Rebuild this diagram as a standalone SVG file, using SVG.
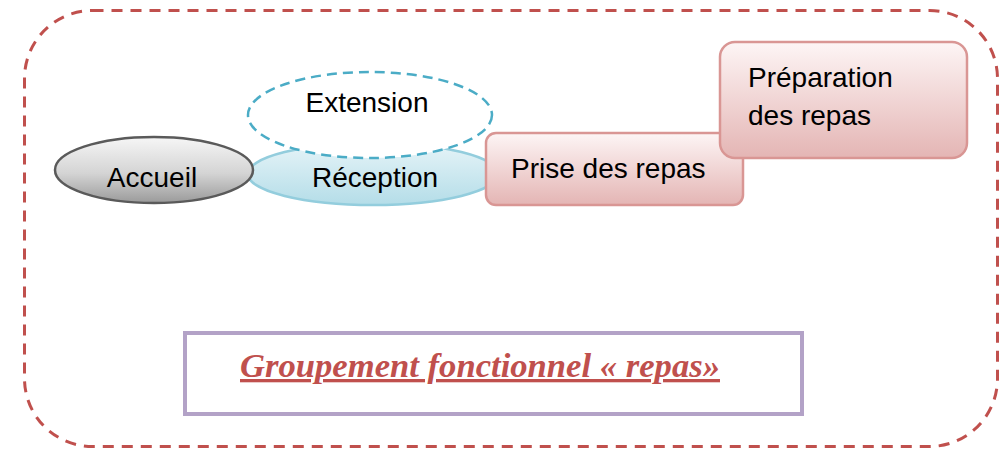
<svg xmlns="http://www.w3.org/2000/svg" width="1007" height="450" viewBox="0 0 1007 450">
<style>
.lbl{font-family:"Liberation Sans",Arial,sans-serif;font-size:28px;fill:#000}
.box{stroke:#d99694;stroke-width:2.5;fill:url(#gBox)}
</style>
<defs>
<linearGradient id="gGray" x1="0" y1="0" x2="0" y2="1">
<stop offset="0" stop-color="#f6f6f6"/><stop offset="0.55" stop-color="#d4d4d4"/><stop offset="1" stop-color="#9a9a9a"/>
</linearGradient>
<linearGradient id="gBlue" x1="0" y1="0" x2="0" y2="1">
<stop offset="0" stop-color="#e6f4f8"/><stop offset="1" stop-color="#b4dde8"/>
</linearGradient>
<linearGradient id="gBox" x1="0" y1="0" x2="0" y2="1">
<stop offset="0" stop-color="#fdf5f5"/><stop offset="1" stop-color="#e4b5b4"/>
</linearGradient>
</defs>
<rect width="1007" height="450" fill="#fff"/>
<g id="frame">
<rect x="24.5" y="10.5" width="973" height="436" rx="68" ry="68" fill="none" stroke="#c0504d" stroke-width="3" stroke-dasharray="11 8"/>
</g>
<g id="connectors"/>
<g id="reception">
<ellipse cx="373" cy="174" rx="125" ry="31" fill="url(#gBlue)" stroke="#93cddd" stroke-width="2.5"/>
<text class="lbl" x="375" y="187" text-anchor="middle">Réception</text>
</g>
<g id="accueil">
<ellipse cx="154" cy="170" rx="99" ry="33" fill="url(#gGray)" stroke="#5a5a5a" stroke-width="2.5"/>
<text class="lbl" x="152" y="187" text-anchor="middle">Accueil</text>
</g>
<g id="extension">
<ellipse cx="370" cy="115" rx="122" ry="43" fill="#fff" stroke="#4bacc6" stroke-width="2.5" stroke-dasharray="10 6"/>
<text class="lbl" x="367" y="112" text-anchor="middle">Extension</text>
</g>
<g id="prise">
<rect class="box" x="486" y="133" width="257" height="72" rx="10"/>
<text class="lbl" x="511" y="178">Prise des repas</text>
</g>
<g id="preparation">
<rect class="box" x="720" y="42" width="247" height="116" rx="15"/>
<text class="lbl" x="748" y="87">Préparation</text>
<text class="lbl" x="748" y="125">des repas</text>
</g>
<g id="titre">
<rect x="185" y="333" width="617" height="81" fill="#fff" stroke="#b3a2c7" stroke-width="4"/>
<text x="240" y="377" font-family="'Liberation Serif','Times New Roman',serif" font-size="33" font-weight="bold" font-style="italic" fill="#c0504d" text-decoration="underline" textLength="480" lengthAdjust="spacingAndGlyphs">Groupement fonctionnel « repas»</text>
</g>
</svg>
